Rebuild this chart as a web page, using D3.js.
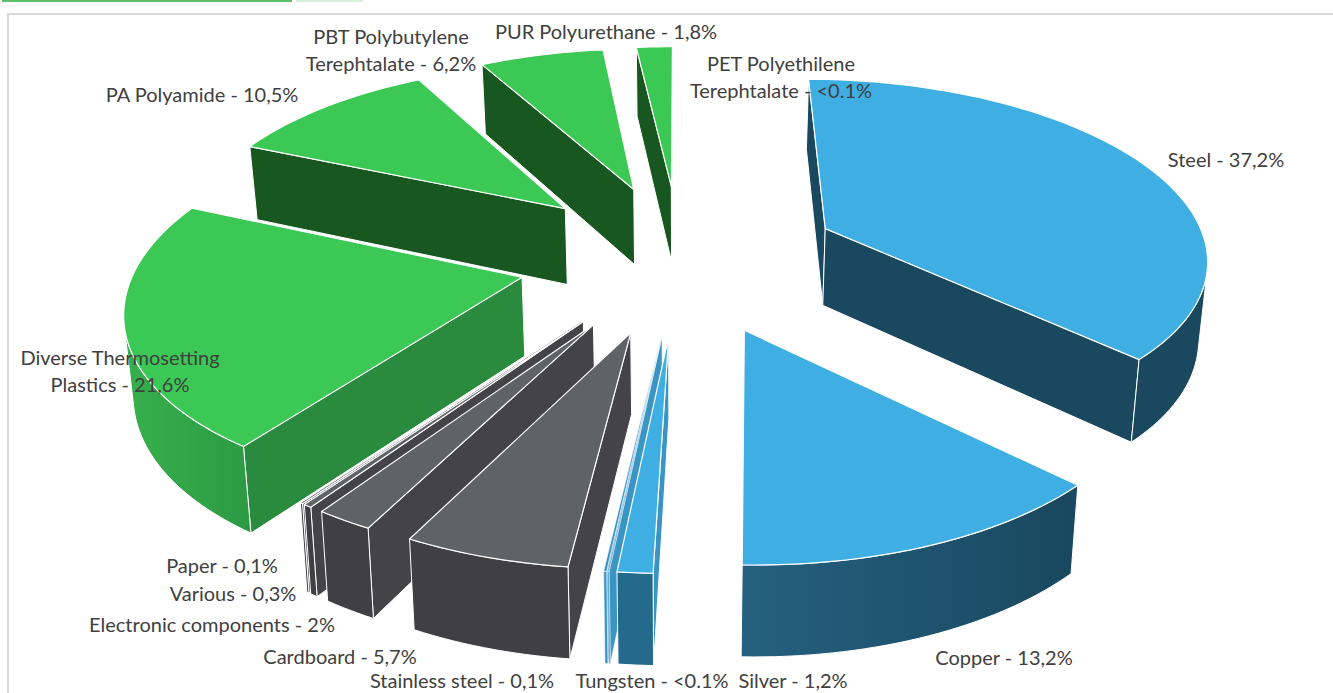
<!DOCTYPE html>
<html>
<head>
<meta charset="utf-8">
<script src="https://cdn.jsdelivr.net/npm/d3@7"></script>
<style>
  html, body { margin: 0; padding: 0; background: #fff; overflow: hidden; }
  text { font-family: Lato, "Open Sans", sans-serif; font-size: 20px; fill: #404040; }
</style>
</head>
<body>
<div id="chart"></div>
<script>
// Data, clockwise from 12 o'clock
var materials = ["PET", "Steel", "Copper", "Silver", "Tungsten", "Stainless steel", "Cardboard",
  "Electronic components", "Various", "Paper", "Diverse Thermosetting Plastics", "PA", "PBT", "PUR"];
var shares = [0.05, 37.2, 13.2, 1.2, 0.05, 0.1, 5.7, 2, 0.3, 0.1, 21.6, 10.5, 6.2, 1.8];
var groups = ["metal", "metal", "metal", "metal", "metal", "metal", "grey", "grey", "grey", "grey",
  "plastic", "plastic", "plastic", "plastic"];
var labelLines = [
  ["PET Polyethilene", "Terephtalate - <0.1%"], ["Steel - 37,2%"], ["Copper - 13,2%"], ["Silver - 1,2%"],
  ["Tungsten - <0.1%"], ["Stainless steel - 0,1%"], ["Cardboard - 5,7%"], ["Electronic components - 2%"],
  ["Various - 0,3%"], ["Paper - 0,1%"], ["Diverse Thermosetting", "Plastics - 21,6%"], ["PA Polyamide - 10,5%"],
  ["PBT Polybutylene", "Terephtalate - 6,2%"], ["PUR Polyurethane - 1,8%"]
];

var svgWidth = 1333;
var svgHeight = 693;

// label centres, same order as materials
var labelPos = [[781, 64], [1226, 160], [1004, 658], [793, 681], [652, 681], [462, 681], [340, 657],
  [212, 625], [233, 594], [222, 566], [120, 358], [202, 95], [391, 37], [606, 32]];

// Colours per slice: top, flat wall, outer wall left and right
var palette = {
  metal: { top: "#3eaee3", wall: "#19485f", left: "#19485f", right: "#19485f" },
  grey: { top: "#5f6267", wall: "#434348", left: "#3f3f44", right: "#3f3f44" },
  plastic: { top: "#3bc855", wall: "#18571f", left: "#37b04c", right: "#2c9a43" }
};
var overrides = {
  "Copper": { left: "#25607f", right: "#19485f" },
  "Silver": { wall: "#3a94c4", left: "#246a8c", right: "#246a8c" },
  "Tungsten": { top: "#3a94c4", wall: "#3a94c4", left: "#3a94c4", right: "#3a94c4", edge: 0.5 },
  "Stainless steel": { top: "#3a94c4", wall: "#3a94c4", left: "#3a94c4", right: "#3a94c4", edge: 0.5 },
  "Diverse Thermosetting Plastics": { wall: "#2a8a3e" }
};

// Projection of the tilted pie
var cx = 680, cy = 257, radius = 384, squash = 178, persp = 0.142, depth = 78, shrink = 0.983, explode = 0.42;

function project(x, y, bottom) {
  var w = 1 / (1 - persp * y);
  var sx = radius * x * w;
  var sy = squash * y * w;
  if (bottom) return [cx + sx * shrink, cy + sy * shrink + depth * w];
  return [cx + sx, cy + sy];
}

var svg = d3.select("#chart").append("svg")
  .attr("width", svgWidth)
  .attr("height", svgHeight)
  .style("display", "block");

var defs = svg.append("defs");

// Page furniture
svg.append("rect").attr("x", 2).attr("y", 0).attr("width", 290).attr("height", 2).attr("fill", "#5bbf6a");
svg.append("rect").attr("x", 296).attr("y", 0).attr("width", 67).attr("height", 2).attr("fill", "#d9efdc");
svg.append("rect").attr("x", 8).attr("y", 14).attr("width", 1340).attr("height", 700)
  .attr("fill", "none").attr("stroke", "#d9d9d9").attr("stroke-width", 2);

var pie = d3.pie().sort(null).value(d => d)(shares);

var slices = pie.map(function(p, i) {
  var mid = (p.startAngle + p.endAngle) / 2;
  var ax = explode * Math.sin(mid), ay = -explode * Math.cos(mid);
  var steps = Math.max(2, Math.ceil((p.endAngle - p.startAngle) * 40));
  var rim = d3.range(steps + 1).map(function(k) {
    var a = p.startAngle + (p.endAngle - p.startAngle) * k / steps;
    return [ax + Math.sin(a), ay - Math.cos(a)];
  });
  return { i: i, name: materials[i], group: groups[i], apex: [ax, ay], rim: rim, order: ay - Math.cos(mid) };
});

var line = d3.line();

function wallPoly(u, v) {
  return [project(u[0], u[1]), project(v[0], v[1]), project(v[0], v[1], true), project(u[0], u[1], true)];
}

// Far slices first
slices.sort((a, b) => a.order - b.order).forEach(function(s) {
  var c = Object.assign({ edge: 1 }, palette[s.group], overrides[s.name]);
  var g = svg.append("g").attr("class", "slice");
  var rimEnd = s.rim[s.rim.length - 1];

  [[s.apex, s.rim[0]], [rimEnd, s.apex]].forEach(function(edge) {
    var poly = wallPoly(edge[0], edge[1]);
    if (d3.polygonArea(poly) > 0) {
      g.append("path").attr("d", line(poly) + "Z").attr("fill", c.wall)
        .attr("stroke", "#fff").attr("stroke-width", c.edge).attr("stroke-linejoin", "round");
    }
  });

  // only the part of the rim turned towards the viewer
  var front = [];
  d3.pairs(s.rim).forEach(function(pair) {
    if (d3.polygonArea(wallPoly(pair[0], pair[1])) > 0) {
      if (!front.length) front.push(pair[0]);
      front.push(pair[1]);
    }
  });
  if (front.length) {
    var topRim = front.map(d => project(d[0], d[1]));
    var botRim = front.map(d => project(d[0], d[1], true)).reverse();
    var poly = topRim.concat(botRim);
    var ext = d3.extent(poly, d => d[0]);
    var id = "rim" + s.i;
    var grad = defs.append("linearGradient").attr("id", id).attr("gradientUnits", "userSpaceOnUse")
      .attr("x1", ext[0]).attr("x2", ext[1]).attr("y1", 0).attr("y2", 0);
    grad.append("stop").attr("offset", "0%").attr("stop-color", c.left);
    grad.append("stop").attr("offset", "100%").attr("stop-color", c.right);
    g.append("path").attr("d", line(poly) + "Z").attr("fill", `url(#${id})`)
      .attr("stroke", "#fff").attr("stroke-width", c.edge).attr("stroke-linejoin", "round");
  }

  var top = [s.apex].concat(s.rim).map(d => project(d[0], d[1]));
  g.append("path").attr("d", line(top) + "Z").attr("fill", c.top)
    .attr("stroke", "#fff").attr("stroke-width", c.edge * 1.2).attr("stroke-linejoin", "round");
});

// Labels sit over the slices
labelLines.forEach(function(lines, i) {
  var t = svg.append("text").attr("text-anchor", "middle").attr("x", labelPos[i][0]).attr("y", labelPos[i][1]);
  lines.forEach(function(l, k) {
    t.append("tspan").attr("x", labelPos[i][0]).attr("dy", k ? 27 : 7).text(l);
  });
});
</script>
</body>
</html>
